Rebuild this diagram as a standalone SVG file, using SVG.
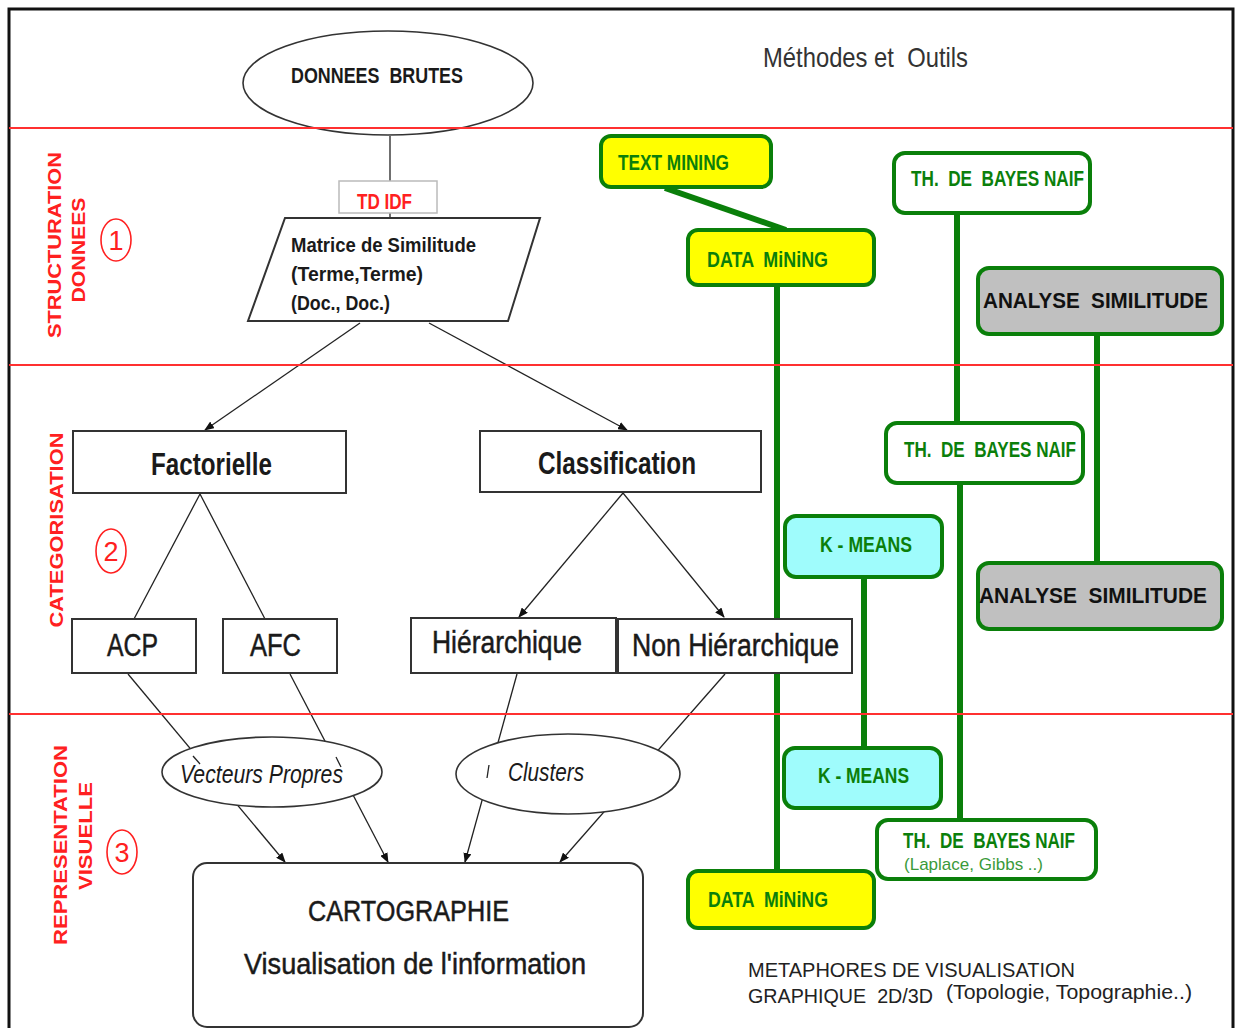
<svg xmlns="http://www.w3.org/2000/svg" width="1239" height="1028" viewBox="0 0 1239 1028">
  <style>
    text { font-family: "Liberation Sans", Arial, sans-serif; white-space: pre; }
    .box { fill: #ffffff; stroke: #333333; stroke-width: 2; }
    .ell { fill: #ffffff; stroke: #333333; stroke-width: 1.6; }
    .lbl { fill: #1a1a1a; }
    .thick { stroke: #1a1a1a; stroke-width: 0.5; }
    .b { font-weight: bold; }
    .red { fill: #ff2020; }
    .band { stroke: #ff3030; stroke-width: 2; }
    .conn { stroke: #222222; stroke-width: 1.3; fill: none; }
    .gline { stroke: #0a7f0a; stroke-width: 6; fill: none; }
    .gbox { stroke: #0a7f0a; stroke-width: 4; }
    .gtxt { fill: #0b7f0b; font-weight: bold; font-size: 22px; }
    .side { fill: #ff2020; font-weight: bold; font-size: 18px; }
  </style>
  <defs>
    <marker id="arr" markerWidth="10" markerHeight="8" refX="9" refY="4" orient="auto" markerUnits="userSpaceOnUse">
      <path d="M0,0 L10,4 L0,8 Z" fill="#111111"/>
    </marker>
  </defs>

  <rect x="0" y="0" width="1239" height="1028" fill="#ffffff"/>
  <!-- frame -->
  <rect x="9" y="9" width="1224" height="1040" fill="none" stroke="#111111" stroke-width="3"/>

  <!-- title -->
  <text x="763" y="67" font-size="28" fill="#333333" textLength="205" lengthAdjust="spacingAndGlyphs">Méthodes et  Outils</text>

  <!-- connectors -->
  <g id="connectors">
    <!-- green method links -->
    <line class="gline" x1="665" y1="188" x2="786" y2="230" stroke-width="8"/>
    <line class="gline" x1="777" y1="285" x2="777" y2="871"/>
    <line class="gline" x1="957" y1="213" x2="957" y2="423"/>
    <line class="gline" x1="960" y1="483" x2="960" y2="820"/>
    <line class="gline" x1="1097" y1="334" x2="1097" y2="563"/>
    <line class="gline" x1="864" y1="577" x2="864" y2="748"/>
    <!-- process flow -->
    <line class="conn" x1="390" y1="136" x2="390" y2="181"/>
    <line class="conn" x1="390" y1="213" x2="390" y2="218"/>
    <line class="conn" x1="360" y1="323" x2="205" y2="430" marker-end="url(#arr)"/>
    <line class="conn" x1="429" y1="323" x2="627" y2="430" marker-end="url(#arr)"/>
    <line class="conn" x1="200" y1="494" x2="134" y2="619"/>
    <line class="conn" x1="200" y1="494" x2="265" y2="619"/>
    <line class="conn" x1="623" y1="493" x2="519" y2="617" marker-end="url(#arr)"/>
    <line class="conn" x1="623" y1="493" x2="724" y2="617" marker-end="url(#arr)"/>
    <line class="conn" x1="128" y1="674" x2="285" y2="862" marker-end="url(#arr)"/>
    <line class="conn" x1="290" y1="674" x2="388" y2="862" marker-end="url(#arr)"/>
    <line class="conn" x1="517" y1="674" x2="465" y2="862" marker-end="url(#arr)"/>
    <line class="conn" x1="725" y1="674" x2="560" y2="862" marker-end="url(#arr)"/>
  </g>

  <!-- bands -->
  <line class="band" x1="9" y1="128" x2="1233" y2="128"/>
  <line class="band" x1="9" y1="365" x2="1233" y2="365"/>
  <line class="band" x1="9" y1="714" x2="1233" y2="714"/>

  <!-- band labels -->
  <g id="band-1">
    <text class="side" transform="translate(61,245) rotate(-90)" text-anchor="middle" textLength="186" lengthAdjust="spacingAndGlyphs">STRUCTURATION</text>
    <text class="side" transform="translate(85,250) rotate(-90)" text-anchor="middle" textLength="105" lengthAdjust="spacingAndGlyphs">DONNEES</text>
    <ellipse cx="116" cy="240" rx="15" ry="21" fill="none" stroke="#ff2020" stroke-width="1.6"/>
    <text class="red" x="116" y="250" font-size="27" text-anchor="middle">1</text>
  </g>
  <g id="band-2">
    <text class="side" transform="translate(63,530) rotate(-90)" text-anchor="middle" textLength="195" lengthAdjust="spacingAndGlyphs">CATEGORISATION</text>
    <ellipse cx="111" cy="551" rx="15" ry="22" fill="none" stroke="#ff2020" stroke-width="1.6"/>
    <text class="red" x="111" y="561" font-size="27" text-anchor="middle">2</text>
  </g>
  <g id="band-3">
    <text class="side" transform="translate(67,845) rotate(-90)" text-anchor="middle" textLength="200" lengthAdjust="spacingAndGlyphs">REPRESENTATION</text>
    <text class="side" transform="translate(92,836) rotate(-90)" text-anchor="middle" textLength="108" lengthAdjust="spacingAndGlyphs">VISUELLE</text>
    <ellipse cx="122" cy="852" rx="15" ry="22" fill="none" stroke="#ff2020" stroke-width="1.6"/>
    <text class="red" x="122" y="862" font-size="27" text-anchor="middle">3</text>
  </g>

  <!-- flow nodes -->
  <g id="donnees-brutes">
    <ellipse class="ell" cx="388" cy="83" rx="145" ry="52" fill="none"/>
    <text class="lbl b" x="291" y="83" font-size="22" textLength="172" lengthAdjust="spacingAndGlyphs">DONNEES  BRUTES</text>
  </g>
  <line class="band" x1="300" y1="128" x2="480" y2="128"/>
  <g id="td-idf">
    <rect x="339" y="181" width="98" height="32" fill="#ffffff" stroke="#bbbbbb" stroke-width="1.5"/>
    <text class="red b" x="357" y="209" font-size="22" textLength="55" lengthAdjust="spacingAndGlyphs">TD IDF</text>
  </g>
  <g id="matrice">
    <polygon class="box" points="285,218 540,218 508,321 248,321"/>
    <text class="lbl b" x="291" y="252" font-size="21" textLength="185" lengthAdjust="spacingAndGlyphs">Matrice de Similitude</text>
    <text class="lbl b" x="291" y="281" font-size="21" textLength="132" lengthAdjust="spacingAndGlyphs">(Terme,Terme)</text>
    <text class="lbl b" x="291" y="310" font-size="21" textLength="99" lengthAdjust="spacingAndGlyphs">(Doc., Doc.)</text>
  </g>
  <g id="factorielle">
    <rect class="box" x="73" y="431" width="273" height="62"/>
    <text class="lbl b" x="151" y="475" font-size="31" textLength="121" lengthAdjust="spacingAndGlyphs">Factorielle</text>
  </g>
  <g id="classification">
    <rect class="box" x="480" y="431" width="281" height="61"/>
    <text class="lbl b" x="538" y="474" font-size="31" textLength="158" lengthAdjust="spacingAndGlyphs">Classification</text>
  </g>
  <g id="acp">
    <rect class="box" x="72" y="619" width="124" height="54"/>
    <text class="lbl thick" x="107" y="656" font-size="31" textLength="51" lengthAdjust="spacingAndGlyphs">ACP</text>
  </g>
  <g id="afc">
    <rect class="box" x="223" y="619" width="114" height="54"/>
    <text class="lbl thick" x="250" y="656" font-size="31" textLength="51" lengthAdjust="spacingAndGlyphs">AFC</text>
  </g>
  <g id="hierarchique">
    <rect class="box" x="411" y="618" width="205" height="55"/>
    <text class="lbl thick" x="432" y="653" font-size="31" textLength="150" lengthAdjust="spacingAndGlyphs">Hiérarchique</text>
  </g>
  <g id="non-hierarchique">
    <rect class="box" x="618" y="619" width="234" height="54"/>
    <text class="lbl thick" x="632" y="656" font-size="31" textLength="207" lengthAdjust="spacingAndGlyphs">Non Hiérarchique</text>
  </g>
  <g id="vecteurs-propres">
    <ellipse class="ell" cx="272" cy="772" rx="110" ry="35"/>
    <text class="lbl" x="180" y="783" font-size="26" font-style="italic" textLength="163" lengthAdjust="spacingAndGlyphs">Vecteurs Propres</text>
  </g>
  <g id="clusters">
    <ellipse class="ell" cx="568" cy="774" rx="112" ry="40"/>
    <text class="lbl" x="508" y="781" font-size="26" font-style="italic" textLength="76" lengthAdjust="spacingAndGlyphs">Clusters</text>
  </g>
  <!-- link traces crossing the ellipses -->
  <g id="connector-traces" class="conn">
    <line x1="193" y1="756" x2="200" y2="764"/>
    <line x1="336" y1="757" x2="341" y2="767"/>
    <line x1="489" y1="765" x2="487" y2="778"/>
  </g>
  <g id="cartographie">
    <rect class="box" x="193" y="863" width="450" height="164" rx="14"/>
    <text class="lbl thick" x="308" y="921" font-size="30" textLength="201" lengthAdjust="spacingAndGlyphs">CARTOGRAPHIE</text>
    <text class="lbl thick" x="244" y="974" font-size="30" textLength="342" lengthAdjust="spacingAndGlyphs">Visualisation de l'information</text>
  </g>

  <!-- method nodes -->
  <g id="text-mining">
    <rect class="gbox" x="601" y="136" width="170" height="51" rx="10" fill="#ffff00"/>
    <text class="gtxt" x="618" y="170" textLength="111" lengthAdjust="spacingAndGlyphs">TEXT MINING</text>
  </g>
  <g id="data-mining-1">
    <rect class="gbox" x="688" y="230" width="186" height="55" rx="10" fill="#ffff00"/>
    <text class="gtxt" x="707" y="267" textLength="121" lengthAdjust="spacingAndGlyphs">DATA  MiNiNG</text>
  </g>
  <g id="bayes-1">
    <rect class="gbox" x="894" y="153" width="196" height="60" rx="11" fill="#ffffff"/>
    <text class="gtxt" x="911" y="186" textLength="173" lengthAdjust="spacingAndGlyphs">TH.  DE  BAYES NAIF</text>
  </g>
  <g id="analyse-1">
    <rect class="gbox" x="978" y="268" width="244" height="66" rx="11" fill="#c0c0c0"/>
    <text x="983" y="308" font-size="22" font-weight="bold" fill="#111111" textLength="225" lengthAdjust="spacingAndGlyphs">ANALYSE  SIMILITUDE</text>
  </g>
  <g id="bayes-2">
    <rect class="gbox" x="886" y="423" width="197" height="60" rx="11" fill="#ffffff"/>
    <text class="gtxt" x="904" y="457" textLength="172" lengthAdjust="spacingAndGlyphs">TH.  DE  BAYES NAIF</text>
  </g>
  <g id="k-means-1">
    <rect class="gbox" x="785" y="516" width="157" height="61" rx="11" fill="#9ffcfc"/>
    <text class="gtxt" x="820" y="552" textLength="92" lengthAdjust="spacingAndGlyphs">K - MEANS</text>
  </g>
  <g id="analyse-2">
    <rect class="gbox" x="978" y="563" width="244" height="66" rx="11" fill="#c0c0c0"/>
    <text x="979" y="603" font-size="22" font-weight="bold" fill="#111111" textLength="228" lengthAdjust="spacingAndGlyphs">ANALYSE  SIMILITUDE</text>
  </g>
  <g id="k-means-2">
    <rect class="gbox" x="784" y="748" width="157" height="60" rx="11" fill="#9ffcfc"/>
    <text class="gtxt" x="818" y="783" textLength="91" lengthAdjust="spacingAndGlyphs">K - MEANS</text>
  </g>
  <g id="bayes-3">
    <rect class="gbox" x="877" y="820" width="219" height="59" rx="11" fill="#ffffff"/>
    <text class="gtxt" x="903" y="848" textLength="172" lengthAdjust="spacingAndGlyphs">TH.  DE  BAYES NAIF</text>
    <text x="904" y="870" font-size="17" fill="#3a9a3a" textLength="139" lengthAdjust="spacingAndGlyphs">(Laplace, Gibbs ..)</text>
  </g>
  <g id="data-mining-2">
    <rect class="gbox" x="688" y="871" width="186" height="57" rx="10" fill="#ffff00"/>
    <text class="gtxt" x="708" y="907" textLength="120" lengthAdjust="spacingAndGlyphs">DATA  MiNiNG</text>
  </g>

  <!-- caption -->
  <g id="caption" fill="#222222">
    <text x="748" y="977" font-size="20" textLength="327" lengthAdjust="spacingAndGlyphs">METAPHORES DE VISUALISATION</text>
    <text x="748" y="1003" font-size="20" textLength="185" lengthAdjust="spacingAndGlyphs">GRAPHIQUE  2D/3D</text>
    <text x="946" y="999" font-size="20" textLength="246" lengthAdjust="spacingAndGlyphs">(Topologie, Topographie..)</text>
  </g>
</svg>
